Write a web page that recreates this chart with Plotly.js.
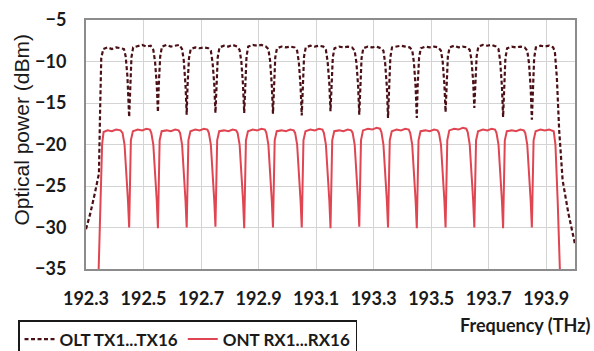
<!DOCTYPE html>
<html>
<head>
<meta charset="utf-8">
<script src="https://cdn.plot.ly/plotly-3.0.1.min.js"></script>
<style>html,body{margin:0;padding:0;background:#fff;}#chart{width:594px;height:351px;}</style>
</head>
<body>
<div id="chart"></div>
<script>
// Frequency ticks (THz)
const xTickVals = [192.3, 192.5, 192.7, 192.9, 193.1, 193.3, 193.5, 193.7, 193.9];
const xTickText = ["192.3", "192.5", "192.7", "192.9", "193.1", "193.3", "193.5", "193.7", "193.9"];
const yTickVals = [-35, -30, -25, -20, -15, -10, -5];

// OLT TX1...TX16 spectrum (frequency THz, power dBm)
const oltFreq = [
  192.300, 192.315, 192.330, 192.345, 192.349, 192.353, 192.360,
  192.375, 192.390, 192.405, 192.420, 192.432, 192.438, 192.444, 192.450,
  192.453, 192.458, 192.464, 192.480, 192.495, 192.510, 192.525, 192.534, 192.540, 192.546, 192.550,
  192.553, 192.558, 192.564, 192.580, 192.595, 192.610, 192.625, 192.634, 192.640, 192.646, 192.650,
  192.653, 192.658, 192.664, 192.680, 192.695, 192.710, 192.725, 192.734, 192.740, 192.746, 192.750,
  192.753, 192.758, 192.764, 192.780, 192.795, 192.810, 192.825, 192.834, 192.840, 192.846, 192.850,
  192.853, 192.858, 192.864, 192.880, 192.895, 192.910, 192.925, 192.934, 192.940, 192.946, 192.950,
  192.953, 192.958, 192.964, 192.980, 192.995, 193.010, 193.025, 193.034, 193.040, 193.046, 193.050,
  193.053, 193.058, 193.064, 193.080, 193.095, 193.110, 193.125, 193.134, 193.140, 193.146, 193.150,
  193.153, 193.158, 193.164, 193.180, 193.195, 193.210, 193.225, 193.234, 193.240, 193.246, 193.250,
  193.253, 193.258, 193.264, 193.280, 193.295, 193.310, 193.325, 193.334, 193.340, 193.346, 193.350,
  193.353, 193.358, 193.364, 193.380, 193.395, 193.410, 193.425, 193.434, 193.440, 193.446, 193.450,
  193.453, 193.458, 193.464, 193.480, 193.495, 193.510, 193.525, 193.534, 193.540, 193.546, 193.550,
  193.553, 193.558, 193.564, 193.580, 193.595, 193.610, 193.625, 193.634, 193.640, 193.646, 193.650,
  193.653, 193.658, 193.664, 193.680, 193.695, 193.710, 193.725, 193.734, 193.740, 193.746, 193.750,
  193.753, 193.758, 193.764, 193.780, 193.795, 193.810, 193.825, 193.834, 193.840, 193.846, 193.850,
  193.853, 193.858, 193.864, 193.880, 193.895, 193.910, 193.924, 193.930, 193.937, 193.945, 193.957, 193.977, 194.000
];
const oltPower = [
  -30.2, -28.3, -26.0, -23.5, -16.0, -9.6, -8.5,
  -8.3, -8.5, -8.3, -8.4, -8.5, -9.4, -11.8, -16.7,
  -13.0, -9.5, -8.3, -8.1, -8.0, -8.2, -8.1, -8.6, -10.0, -12.8, -16.1,
  -12.8, -9.4, -8.2, -8.0, -8.2, -8.1, -8.0, -8.5, -9.9, -12.9, -16.4,
  -12.9, -9.6, -8.5, -8.3, -8.4, -8.3, -8.4, -8.7, -10.1, -12.8, -16.2,
  -12.8, -9.5, -8.3, -8.1, -8.2, -8.0, -8.2, -8.6, -10.0, -12.9, -16.2,
  -12.9, -9.4, -8.2, -8.0, -8.1, -8.0, -8.2, -8.5, -9.9, -12.9, -16.3,
  -13.0, -9.5, -8.4, -8.2, -8.3, -8.2, -8.3, -8.7, -10.1, -13.0, -16.5,
  -12.8, -9.4, -8.3, -8.1, -8.2, -8.1, -8.2, -8.6, -10.0, -12.7, -16.0,
  -12.9, -9.5, -8.4, -8.2, -8.3, -8.2, -8.3, -8.7, -10.1, -12.9, -16.4,
  -13.1, -9.6, -8.4, -8.2, -8.3, -8.2, -8.4, -8.7, -10.2, -13.1, -16.8,
  -13.0, -9.5, -8.3, -8.2, -8.1, -8.2, -8.3, -8.6, -10.1, -13.1, -16.8,
  -12.9, -9.5, -8.4, -8.2, -8.3, -8.2, -8.3, -8.7, -10.0, -12.8, -16.1,
  -12.6, -9.4, -8.3, -8.1, -8.3, -8.2, -8.3, -8.6, -9.8, -12.4, -15.6,
  -12.9, -9.4, -8.2, -8.0, -8.1, -8.0, -8.2, -8.5, -10.0, -13.0, -16.7,
  -13.1, -9.6, -8.4, -8.2, -8.3, -8.2, -8.3, -8.7, -10.2, -13.2, -17.0,
  -13.2, -9.6, -8.3, -8.1, -8.2, -8.1, -8.3, -8.8, -12.0, -18.3, -24.3, -28.3, -32.0
];

// ONT RX1...RX16 spectrum (frequency THz, power dBm)
const ontFreq = [
  192.340, 192.347, 192.352, 192.356, 192.361,
  192.375, 192.390, 192.405, 192.420, 192.427, 192.434, 192.440, 192.446, 192.450,
  192.453, 192.456, 192.463, 192.480, 192.495, 192.510, 192.522, 192.527, 192.534, 192.540, 192.546, 192.550,
  192.553, 192.556, 192.563, 192.580, 192.595, 192.610, 192.622, 192.627, 192.634, 192.640, 192.646, 192.650,
  192.653, 192.656, 192.663, 192.680, 192.695, 192.710, 192.722, 192.727, 192.734, 192.740, 192.746, 192.750,
  192.753, 192.756, 192.763, 192.780, 192.795, 192.810, 192.822, 192.827, 192.834, 192.840, 192.846, 192.850,
  192.853, 192.856, 192.863, 192.880, 192.895, 192.910, 192.922, 192.927, 192.934, 192.940, 192.946, 192.950,
  192.953, 192.956, 192.963, 192.980, 192.995, 193.010, 193.022, 193.027, 193.034, 193.040, 193.046, 193.050,
  193.053, 193.056, 193.063, 193.080, 193.095, 193.110, 193.122, 193.127, 193.134, 193.140, 193.146, 193.150,
  193.153, 193.156, 193.163, 193.180, 193.195, 193.210, 193.222, 193.227, 193.234, 193.240, 193.246, 193.250,
  193.253, 193.256, 193.263, 193.280, 193.295, 193.310, 193.322, 193.327, 193.334, 193.340, 193.346, 193.350,
  193.353, 193.356, 193.363, 193.380, 193.395, 193.410, 193.422, 193.427, 193.434, 193.440, 193.446, 193.450,
  193.453, 193.456, 193.463, 193.480, 193.495, 193.510, 193.522, 193.527, 193.534, 193.540, 193.546, 193.550,
  193.553, 193.556, 193.563, 193.580, 193.595, 193.610, 193.622, 193.627, 193.634, 193.640, 193.646, 193.650,
  193.653, 193.656, 193.663, 193.680, 193.695, 193.710, 193.722, 193.727, 193.734, 193.740, 193.746, 193.750,
  193.753, 193.756, 193.763, 193.780, 193.795, 193.810, 193.822, 193.827, 193.834, 193.840, 193.846, 193.850,
  193.853, 193.856, 193.863, 193.880, 193.895, 193.910, 193.926, 193.932, 193.940, 193.948, 193.952
];
const ontPower = [
  -40.0, -31.0, -24.0, -20.0, -18.5,
  -18.3, -18.4, -18.2, -18.3, -18.6, -20.0, -22.8, -26.8, -30.0,
  -23.5, -19.5, -18.4, -18.2, -18.3, -18.1, -18.2, -18.6, -20.0, -22.8, -26.8, -30.1,
  -23.5, -19.5, -18.4, -18.3, -18.4, -18.2, -18.3, -18.6, -20.0, -22.8, -26.8, -30.0,
  -23.5, -19.5, -18.4, -18.2, -18.3, -18.1, -18.2, -18.6, -20.0, -22.8, -26.8, -29.9,
  -23.5, -19.5, -18.4, -18.3, -18.4, -18.2, -18.3, -18.6, -20.0, -22.8, -26.8, -30.1,
  -23.5, -19.5, -18.4, -18.2, -18.3, -18.1, -18.2, -18.6, -20.0, -22.8, -26.8, -30.0,
  -23.5, -19.5, -18.4, -18.3, -18.4, -18.2, -18.3, -18.6, -20.0, -22.8, -26.8, -30.0,
  -23.5, -19.5, -18.4, -18.2, -18.3, -18.1, -18.2, -18.6, -20.0, -22.8, -26.8, -30.1,
  -23.5, -19.5, -18.4, -18.3, -18.4, -18.2, -18.3, -18.6, -20.0, -22.8, -26.8, -29.9,
  -23.5, -19.5, -18.3, -18.1, -18.2, -18.0, -18.1, -18.5, -20.0, -22.8, -26.8, -30.0,
  -23.5, -19.5, -18.4, -18.2, -18.3, -18.1, -18.2, -18.6, -20.0, -22.8, -26.8, -30.1,
  -23.5, -19.5, -18.4, -18.3, -18.4, -18.2, -18.3, -18.6, -20.0, -22.8, -26.8, -30.0,
  -23.5, -19.5, -18.3, -18.1, -18.2, -18.0, -18.1, -18.5, -20.0, -22.8, -26.8, -30.0,
  -23.5, -19.5, -18.4, -18.2, -18.3, -18.1, -18.2, -18.6, -20.0, -22.8, -26.8, -30.1,
  -23.5, -19.5, -18.4, -18.3, -18.4, -18.2, -18.3, -18.6, -20.0, -22.8, -26.8, -30.0,
  -23.5, -19.5, -18.4, -18.2, -18.3, -18.2, -18.4, -20.0, -27.0, -35.0, -40.0
];

const boldFont = {family: "Lato, 'Open Sans', sans-serif", size: 18, weight: 700, color: "#1a1a1a"};

const traces = [
  {
    x: oltFreq, y: oltPower, type: "scatter", mode: "lines", name: "OLT TX1...TX16",
    line: {color: "#4a1016", width: 2.2, dash: "4px,2.5px"}
  },
  {
    x: ontFreq, y: ontPower, type: "scatter", mode: "lines", name: "ONT RX1...RX16",
    line: {color: "#e04552", width: 2}
  }
];

const layout = {
  width: 594, height: 351,
  margin: {l: 86, r: 19, t: 20, b: 82, autoexpand: false},
  paper_bgcolor: "#ffffff", plot_bgcolor: "#ffffff",
  showlegend: true,
  xaxis: {
    range: [192.3, 194.0], tickmode: "array", tickvals: xTickVals, ticktext: xTickText,
    showgrid: true, gridcolor: "#d4d4d4", gridwidth: 1, zeroline: false,
    showline: true, linecolor: "#8c8c8c", linewidth: 2, mirror: true,
    ticks: "", ticklabelstandoff: 12, tickfont: boldFont
  },
  yaxis: {
    range: [-35, -5], tickmode: "array", tickvals: yTickVals,
    showgrid: true, gridcolor: "#d4d4d4", gridwidth: 1, zeroline: false,
    showline: true, linecolor: "#8c8c8c", linewidth: 2, mirror: true,
    ticks: "", ticklabelstandoff: 14, tickfont: boldFont
  },
  legend: {
    orientation: "h", x: -0.139, y: -0.205, xanchor: "left", yanchor: "top",
    bordercolor: "#1a1a1a", borderwidth: 1.5, bgcolor: "#ffffff",
    font: {family: "Lato, 'Open Sans', sans-serif", size: 17, weight: 700, color: "#1a1a1a"},
    itemwidth: 30
  },
  annotations: [
    {
      text: "Optical power (dBm)", xref: "paper", yref: "paper", x: -0.131, y: 0.56,
      xanchor: "center", yanchor: "middle", textangle: -90, showarrow: false,
      font: {family: "'Liberation Sans', Arial, sans-serif", size: 21, color: "#1a1a1a"}
    },
    {
      text: "Frequency (THz)", xref: "paper", yref: "paper", x: 1.035, y: -0.225,
      xanchor: "right", yanchor: "middle", showarrow: false,
      font: {family: "Lato, 'Open Sans', sans-serif", size: 18, weight: 700, color: "#1a1a1a"}
    }
  ]
};

Plotly.newPlot("chart", traces, layout, {staticPlot: true, displayModeBar: false});
</script>
</body>
</html>
